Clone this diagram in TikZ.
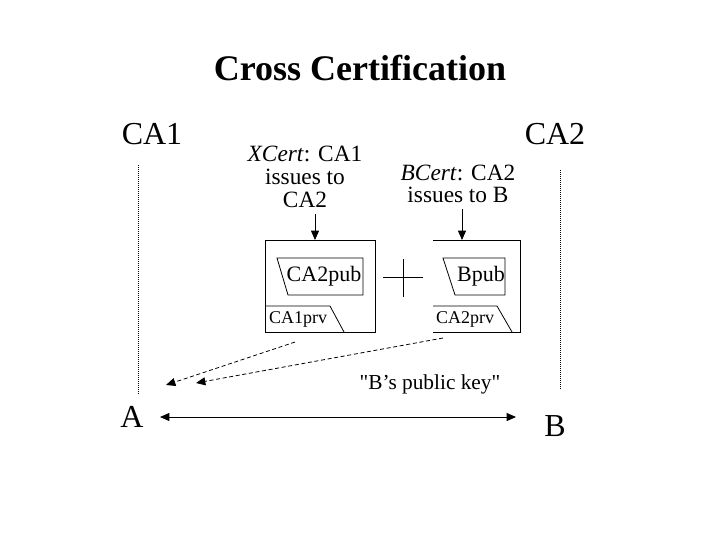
\documentclass[tikz,border=0pt]{standalone}
\usepackage{fontspec}
\setmainfont{Liberation Serif}
\usetikzlibrary{arrows.meta}
\begin{document}
\begin{tikzpicture}[x=0.75pt,y=-0.75pt,
  ln/.style={line width=0.6pt},
  tip/.style={-{Triangle[length=7pt,width=6pt]}},
  lbl/.style={font=\fontsize{24}{26}\selectfont},
  txt/.style={font=\fontsize{17.5}{17}\selectfont,align=center},
  dotv/.style={densely dotted,line width=0.5pt}]
\useasboundingbox (0,0) rectangle (720,540);
\node[font=\bfseries\fontsize{27}{30}\selectfont] (title) at (360,68) {Cross Certification};
\node[lbl] (ca1) at (152,134) {CA1};
\node[lbl] (ca2) at (555,134) {CA2};
\node[lbl] (a) at (132,417) {A};
\node[lbl] (b) at (555,426) {B};
\coordinate (v1t) at (138,165); \coordinate (v1b) at (138,395);
\coordinate (v2t) at (560,170); \coordinate (v2b) at (560,390);
\draw[dotv] (v1t) -- (v1b);
\draw[dotv] (v2t) -- (v2b);
\node[txt] (xc) at (305,177) {\textit{XCert}: CA1\\issues to\\CA2};
\node[txt] (bc) at (458,184) {\textit{BCert}: CA2\\issues to B};
% left box
\draw[ln] (265,240) rectangle (375,332);
\draw[ln] (277,258) -- (363,258) -- (363,295) -- (288,295) -- cycle;
\node[font=\fontsize{16.5}{18}\selectfont] (p1) at (324,276) {CA2pub};
\draw[ln] (265,306) -- (330,306) -- (344,332);
\node[font=\fontsize{13.5}{14}\selectfont] (k1) at (298,319) {CA1prv};
% right box
\draw[ln] (433,240) -- (520,240) -- (520,332) -- (433,332);
\draw[ln] (443,258) -- (505,258) -- (505,295) -- (455,295) -- cycle;
\node[font=\fontsize{16.5}{18}\selectfont] (p2) at (481,276) {Bpub};
\draw[ln] (433,306) -- (497,306) -- (512,332);
\node[font=\fontsize{13.5}{14}\selectfont] (k2) at (465,319) {CA2prv};
% plus
\coordinate (ph1) at (383,277); \coordinate (ph2) at (423,277);
\coordinate (pv1) at (403,259); \coordinate (pv2) at (403,297);
\draw[ln] (ph1) -- (ph2); \draw[ln] (pv1) -- (pv2);
% arrows
\coordinate (x1) at (315,214); \coordinate (x2) at (315,240);
\coordinate (y1) at (462,209); \coordinate (y2) at (462,240);
\draw[ln,tip] (x1) -- (x2);
\draw[ln,tip] (y1) -- (y2);
\coordinate (d1s) at (295,342); \coordinate (d1e) at (166,385);
\coordinate (d2s) at (443,338); \coordinate (d2e) at (196,383);
\draw[ln,densely dashed,tip] (d1s) -- (d1e);
\draw[ln,densely dashed,tip] (d2s) -- (d2e);
\node[font=\fontsize{16}{18}\selectfont] (pk) at (430,384) {\textquotedbl B's public key\textquotedbl};
\coordinate (h1) at (160,417); \coordinate (h2) at (516,417);
\draw[ln,{Triangle[length=7pt,width=6pt]}-{Triangle[length=7pt,width=6pt]}] (h1) -- (h2);
\end{tikzpicture}
\end{document}
